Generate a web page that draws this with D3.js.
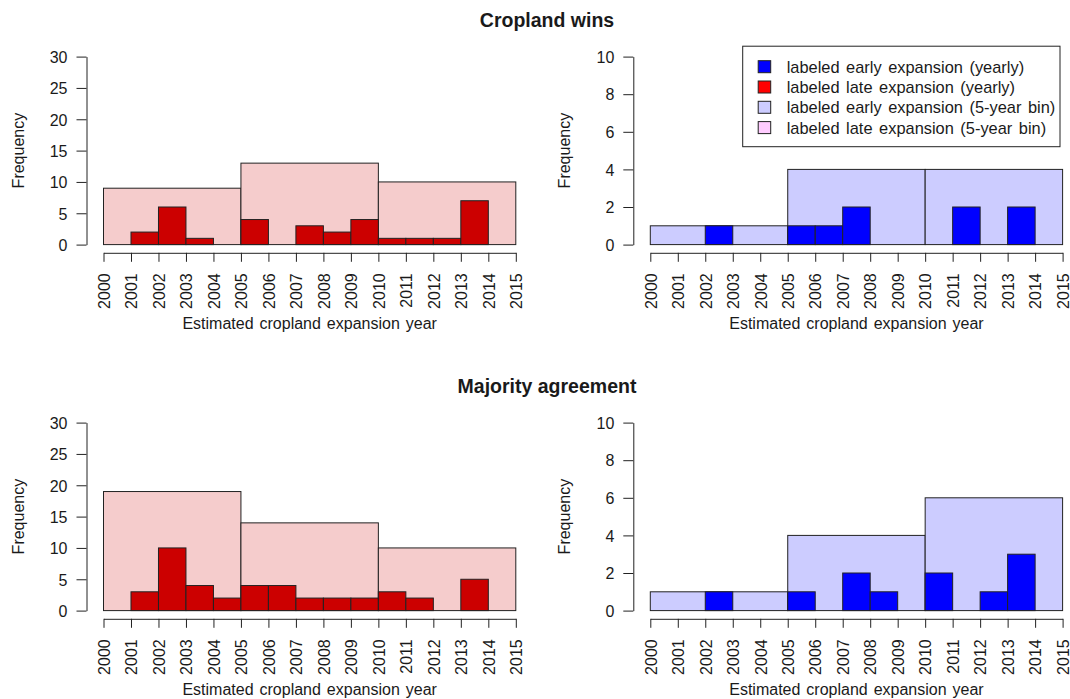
<!DOCTYPE html>
<html>
<head>
<meta charset="utf-8">
<script src="https://cdn.jsdelivr.net/npm/d3@7"></script>
<style>
  html, body { margin: 0; padding: 0; background: #fff; }
  svg { display: block; }
  text { font-family: "Liberation Sans", Arial, Helvetica, sans-serif; fill: #1a1a1a; }
</style>
</head>
<body>
<svg id="chart" width="1070" height="699"></svg>
<script>
// ---------- data ----------
const yearTicks = [2000,2001,2002,2003,2004,2005,2006,2007,2008,2009,2010,2011,2012,2013,2014,2015];
const yearStarts = [2000,2001,2002,2003,2004,2005,2006,2007,2008,2009,2010,2011,2012,2013,2014];
const binStarts = [2000,2005,2010];

const cwLateYearly  = [0,2,6,1,0,4,0,3,2,4,1,1,1,7,0];
const cwLateBins    = [9,13,10];
const cwEarlyYearly = [0,0,1,0,0,1,1,2,0,0,0,2,0,2,0];
const cwEarlyBins   = [1,4,4];

const maLateYearly  = [0,3,10,4,2,4,4,2,2,2,3,2,0,5,0];
const maLateBins    = [19,14,10];
const maEarlyYearly = [0,0,1,0,0,1,0,2,1,0,2,0,1,3,0];
const maEarlyBins   = [1,4,6];

const lateTicks  = [0,5,10,15,20,25,30];
const earlyTicks = [0,2,4,6,8,10];

const rowTitles = ["Cropland wins", "Majority agreement"];
const legendLabels = [
  "labeled early expansion (yearly)",
  "labeled late expansion (yearly)",
  "labeled early expansion (5-year bin)",
  "labeled late expansion (5-year bin)"
];
const legendColors = ["#0000ff", "#ff0000", "#ccccff", "#ffccff"];

// ---------- layout ----------
const svg = d3.select("#chart");
const stroke = "#222";
const fontSize = 16;

const panels = [
  { row: 0, col: 0, yearly: cwLateYearly,  bins: cwLateBins,  max: 30, ticks: lateTicks,  fillY: "#cc0000", fillB: "#f5cccc" },
  { row: 0, col: 1, yearly: cwEarlyYearly, bins: cwEarlyBins, max: 10, ticks: earlyTicks, fillY: "#0000ff", fillB: "#ccccff", legend: true },
  { row: 1, col: 0, yearly: maLateYearly,  bins: maLateBins,  max: 30, ticks: lateTicks,  fillY: "#cc0000", fillB: "#f5cccc" },
  { row: 1, col: 1, yearly: maEarlyYearly, bins: maEarlyBins, max: 10, ticks: earlyTicks, fillY: "#0000ff", fillB: "#ccccff" }
];

const colX0 = [103.5, 650.3];
const plotW = 412.3;
const rowY0 = [244.6, 610.6];
const plotH = 188;
const yAxisGap = 17;   // y axis drawn to the left of the plot
const xAxisGap = 8.2;  // x axis drawn below zero

rowTitles.forEach((t, i) => {
  svg.append("text")
    .attr("x", 547).attr("y", 27 + i * 366)
    .attr("text-anchor", "middle")
    .style("font-size", "19.5px").style("font-weight", "bold")
    .text(t);
});

panels.forEach(p => {
  const x0 = colX0[p.col];
  const base = rowY0[p.row];
  const x = d3.scaleLinear().domain([2000, 2015]).range([x0, x0 + plotW]);
  const y = d3.scaleLinear().domain([0, p.max]).range([base, base - plotH]);
  const g = svg.append("g");

  // 5-year bins
  g.selectAll("rect.bin").data(binStarts.map((s, i) => ({ s, v: p.bins[i] })))
    .enter().append("rect")
    .attr("x", d => x(d.s)).attr("width", d => x(d.s + 5) - x(d.s))
    .attr("y", d => y(d.v)).attr("height", d => y(0) - y(d.v))
    .attr("fill", p.fillB).attr("stroke", stroke).attr("stroke-width", 1);

  // yearly bars
  g.selectAll("rect.yr").data(yearStarts.map((s, i) => ({ s, v: p.yearly[i] })).filter(d => d.v > 0))
    .enter().append("rect")
    .attr("x", d => x(d.s)).attr("width", d => x(d.s + 1) - x(d.s))
    .attr("y", d => y(d.v)).attr("height", d => y(0) - y(d.v))
    .attr("fill", p.fillY).attr("stroke", stroke).attr("stroke-width", 1);

  // x axis
  const xa = g.append("g")
    .attr("transform", `translate(0,${base + xAxisGap})`)
    .call(d3.axisBottom(x).tickValues(yearTicks).tickFormat(d3.format("d")).tickSize(9).tickSizeOuter(0));
  xa.selectAll("text")
    .attr("transform", "rotate(-90)")
    .attr("x", -20.5).attr("y", 0).attr("dy", "0.36em")
    .attr("text-anchor", "end")
    .style("font-size", fontSize + "px");

  // y axis
  const ya = g.append("g")
    .attr("transform", `translate(${x0 - yAxisGap},0)`)
    .call(d3.axisLeft(y).tickValues(p.ticks).tickSize(10).tickPadding(9).tickSizeOuter(0));
  ya.selectAll("text").style("font-size", fontSize + "px").attr("dy", "0.36em");

  [xa, ya].forEach(a => {
    a.selectAll("path, line").attr("stroke", stroke).attr("stroke-width", 1);
    a.selectAll("text").style("fill", "#1a1a1a")
      .style("font-family", '"Liberation Sans", Arial, Helvetica, sans-serif');
  });

  // axis titles
  g.append("text")
    .attr("x", (x(2000) + x(2015)) / 2).attr("y", base + 84)
    .attr("text-anchor", "middle").style("font-size", fontSize + "px")
    .style("word-spacing", "1.5px")
    .text("Estimated cropland expansion year");
  const fy = (y(0) + y(p.max)) / 2;
  g.append("text")
    .attr("transform", `translate(${x0 - yAxisGap - 63},${fy}) rotate(-90)`)
    .attr("text-anchor", "middle").style("font-size", fontSize + "px")
    .text("Frequency");

  if (p.legend) {
    const lx = 742.7, ly = 46.2, lw = 317.3, lh = 100.5;
    const lg = svg.append("g");
    lg.append("rect").attr("x", lx).attr("y", ly).attr("width", lw).attr("height", lh)
      .attr("fill", "#fff").attr("stroke", stroke).attr("stroke-width", 1);
    legendLabels.forEach((lab, i) => {
      const cy = ly + 20.5 + i * 20.3;
      lg.append("rect").attr("x", lx + 15.5).attr("y", cy - 6).attr("width", 12.5).attr("height", 12)
        .attr("fill", legendColors[i]).attr("stroke", stroke).attr("stroke-width", 1);
      lg.append("text").attr("x", lx + 44).attr("y", cy).attr("dy", "0.36em")
        .style("font-size", "16.4px").style("word-spacing", "2px").text(lab);
    });
  }
});
</script>
</body>
</html>
